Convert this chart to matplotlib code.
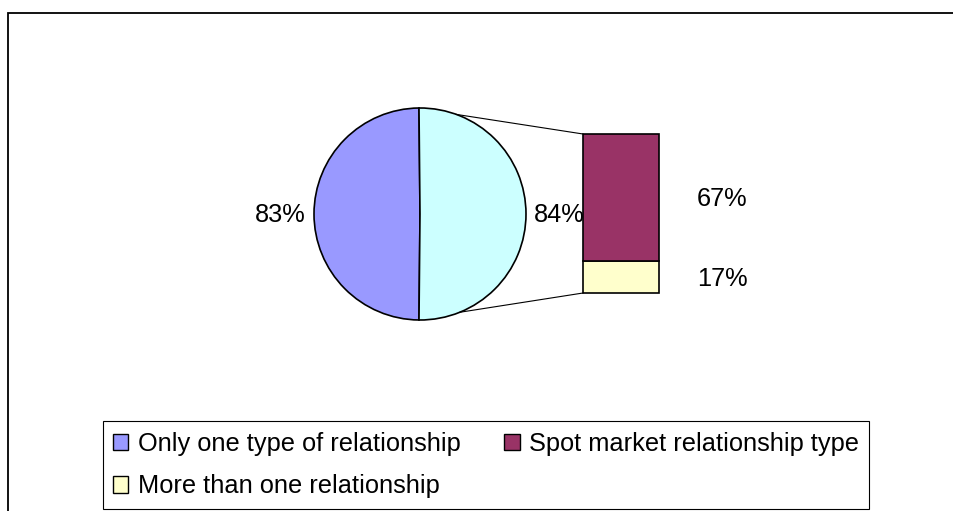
import numpy as np
import matplotlib
matplotlib.use("Agg")
import matplotlib.pyplot as plt
from matplotlib.patches import Patch, Rectangle

# data
pie_labels = ["Only one type of relationship", "Other"]
pie_values = [83, 84]
bar_labels = ["Spot market relationship type", "More than one relationship"]
bar_values = [67, 17]

pie_colors = ["#9999FF", "#CCFFFF"]
bar_colors = ["#993366", "#FFFFCC"]

plt.rcParams["font.family"] = ["Liberation Sans", "DejaVu Sans"]
FS = 18.3

W, H = 954, 511
fig = plt.figure(figsize=(W / 100, H / 100), dpi=100)
ax = fig.add_axes([0, 0, 1, 1])

# layout, in pixels (y up)
cx, cy, r = 420, 297, 106
bar_x, bar_w = 621, 76
bar_top, bar_h = 377, 159

# pie: keep the "other" slice centred on the right side
start = pie_values[1] / sum(pie_values) * 180
wedges, _ = ax.pie(pie_values, colors=pie_colors, startangle=start,
                   center=(cx, cy), radius=r, frame=True,
                   wedgeprops=dict(edgecolor="black", linewidth=1.2))

for w, v in zip(wedges, pie_values):
    mid = np.deg2rad((w.theta1 + w.theta2) / 2)
    x = cx + np.cos(mid) * (r + 8)
    ha = "left" if np.cos(mid) > 0 else "right"
    ax.text(x, cy - 1, f"{v}%", ha=ha, va="center", fontsize=FS)

# bar of the "other" slice
scale = bar_h / sum(bar_values)
bottom = bar_top - bar_h
for lab, v, c in reversed(list(zip(bar_labels, bar_values, bar_colors))):
    ax.bar(bar_x, v * scale, width=bar_w, bottom=bottom, color=c,
           edgecolor="black", linewidth=1.2)
    ax.text(bar_x + bar_w / 2 + 38, bottom + v * scale / 2 - 2, f"{v}%",
            ha="left", va="center", fontsize=FS)
    bottom += v * scale

# connector lines
left = bar_x - bar_w / 2
for ang, yb in [(70, bar_top), (-68, bar_top - bar_h)]:
    a = np.deg2rad(ang)
    ax.plot([cx + r * np.cos(a), left], [cy + r * np.sin(a), yb],
            color="black", linewidth=0.8)

ax.set_xlim(0, W)
ax.set_ylim(0, H)
ax.set_axis_off()

# outer chart frame
ax.add_patch(Rectangle((8, -20), W + 20, H - 13 + 20, fill=False,
                       edgecolor="black", linewidth=1.3))

handles = [
    Patch(facecolor=pie_colors[0], edgecolor="black", label=pie_labels[0]),
    Patch(facecolor=bar_colors[1], edgecolor="black", label=bar_labels[1]),
    Patch(facecolor=bar_colors[0], edgecolor="black", label=bar_labels[0]),
]
leg = ax.legend(handles=handles, ncol=2, mode="expand", loc="center",
                bbox_to_anchor=(103, 2, 766, 88), bbox_transform=ax.transData,
                fontsize=FS, frameon=True, fancybox=False, framealpha=1,
                edgecolor="black", handlelength=0.6, handleheight=0.6,
                handletextpad=0.36, labelspacing=0.74, borderaxespad=0,
                borderpad=0.4, columnspacing=1.2)
leg.get_frame().set_linewidth(0.8)

fig.savefig("out.png", dpi=100)
